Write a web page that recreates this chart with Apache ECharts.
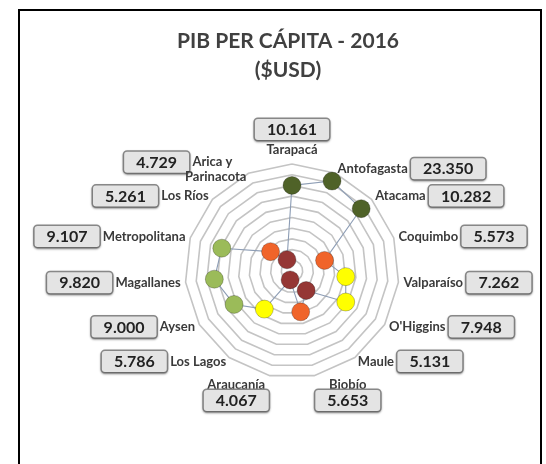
<!DOCTYPE html>
<html>
<head>
<meta charset="utf-8">
<script src="https://cdn.jsdelivr.net/npm/echarts@6/dist/echarts.min.js"></script>
<style>
  html, body { margin: 0; padding: 0; background: #fff; }
  #chart { width: 546px; height: 464px; }
</style>
</head>
<body>
<div id="chart"></div>
<script>
// regiones en orden horario, empezando arriba
var regions = ['Tarapacá', 'Antofagasta', 'Atacama', 'Coquimbo', 'Valparaíso', "O'Higgins", 'Maule',
  'Biobío', 'Araucanía', 'Los Lagos', 'Aysen', 'Magallanes', 'Metropolitana', 'Los Ríos', 'Arica y Parinacota']
// PIB per cápita 2016 (USD)
var gdp = [10161, 23350, 10282, 5573, 7262, 7948, 5131, 5653, 4067, 5786, 9000, 9820, 9107, 5261, 4729]
// valor graficado en el radar (escala 0-10)
var plotted = [8.0, 9.2, 8.7, 3.2, 5.05, 5.8, 2.25, 3.9, 0.85, 4.4, 6.25, 7.3, 6.9, 2.7, 1.15]
var axisMax = 10

var CENTER = [292, 271]
var RADIUS = 107
var FONT = 'Lato, "Open Sans", sans-serif'

function fmt (v) {
  return String(v).replace(/\B(?=(\d{3})+(?!\d))/g, '.')
}
function dotColor (v) {
  if (v >= 10000) return '#4f6228'
  if (v >= 9000) return '#9bbb59'
  if (v >= 5700) return '#ffff00'
  if (v >= 5200) return '#f0642a'
  return '#953735'
}

// el radar de echarts va en sentido antihorario: invertir el orden
var order = [0].concat(regions.map(function (r, i) { return i }).slice(1).reverse())

var boxStyle = {
  fontFamily: FONT, fontWeight: 'bold', fontSize: 16, lineHeight: 17, color: '#222',
  backgroundColor: '#e4e4e4', borderColor: '#8a8a8a', borderWidth: 1.5, borderRadius: 3,
  padding: [3, 12, 2, 12], shadowBlur: 2, shadowColor: 'rgba(0,0,0,0.3)', shadowOffsetY: 1
}
var nameStyle = { fontFamily: FONT, fontWeight: 'bold', fontSize: 13, color: '#3a3a3a' }

var chart = echarts.init(document.getElementById('chart'))

var option = {
  backgroundColor: '#fff',
  animation: false,
  title: {
    text: 'PIB PER CÁPITA - 2016\n($USD)',
    left: 283,
    top: 22,
    textAlign: 'center',
    textStyle: { fontFamily: FONT, fontWeight: 'bold', fontSize: 21, color: '#404040', lineHeight: 29 }
  },
  graphic: [{
    type: 'rect',
    shape: { x: 19, y: 10, width: 522, height: 470 },
    style: { fill: 'none', stroke: '#000', lineWidth: 2 },
    silent: true
  }],
  radar: {
    center: CENTER,
    radius: RADIUS,
    startAngle: 90,
    shape: 'polygon',
    splitNumber: 10,
    nameGap: 5,
    indicator: order.map(function (i) { return { name: regions[i], min: 0, max: axisMax } }),
    axisLine: { show: false },
    axisTick: { show: false },
    axisLabel: { show: false },
    splitArea: { show: false },
    splitLine: { lineStyle: { color: '#c4c4c4', width: 1.6 } },
    axisName: {
      formatter: function (name) {
        var i = regions.indexOf(name)
        var v = fmt(gdp[i])
        if (i === 0) return '{bc|' + v + '}\n{nt|' + name + '}'
        if (i === 7 || i === 8) return '{nb|' + name + '}\n{bc|' + v + '}'
        if (i < 7) return '{n|' + name + '} {b|' + v + '}'
        if (name.indexOf(' y ') > 0) {
          var parts = name.split(' y ')
          return '{b|' + v + '} {np|' + parts[0] + ' y}\n{n|' + parts[1] + '}'
        }
        return '{b|' + v + '} {n|' + name + '}'
      },
      rich: {
        n: nameStyle,
        np: Object.assign({}, nameStyle, { padding: [0, 14, 0, 0] }),
        nt: Object.assign({}, nameStyle, { align: 'center', padding: [5, 0, 3, 0] }),
        nb: Object.assign({}, nameStyle, { align: 'center', padding: [26, 0, 1, 0] }),
        b: boxStyle,
        bc: Object.assign({}, boxStyle, { align: 'center' })
      }
    }
  },
  polar: { center: CENTER, radius: RADIUS },
  angleAxis: {
    type: 'category',
    data: regions,
    boundaryGap: false,
    startAngle: 90,
    clockwise: true,
    show: false
  },
  radiusAxis: { min: 0, max: axisMax, show: false },
  series: [
    {
      type: 'radar',
      silent: true,
      symbol: 'none',
      lineStyle: { color: '#8d9db5', width: 1.1 },
      data: [{ value: order.map(function (i) { return plotted[i] }) }]
    },
    {
      type: 'scatter',
      coordinateSystem: 'polar',
      symbolSize: 18,
      z: 5,
      itemStyle: {
        opacity: 1,
        color: function (p) { return dotColor(p.value[2]) },
        borderColor: 'rgba(0,0,0,0.25)',
        borderWidth: 1
      },
      data: regions.map(function (r, i) { return [plotted[i], r, gdp[i]] })
    }
  ]
}

chart.setOption(option)
</script>
</body>
</html>
